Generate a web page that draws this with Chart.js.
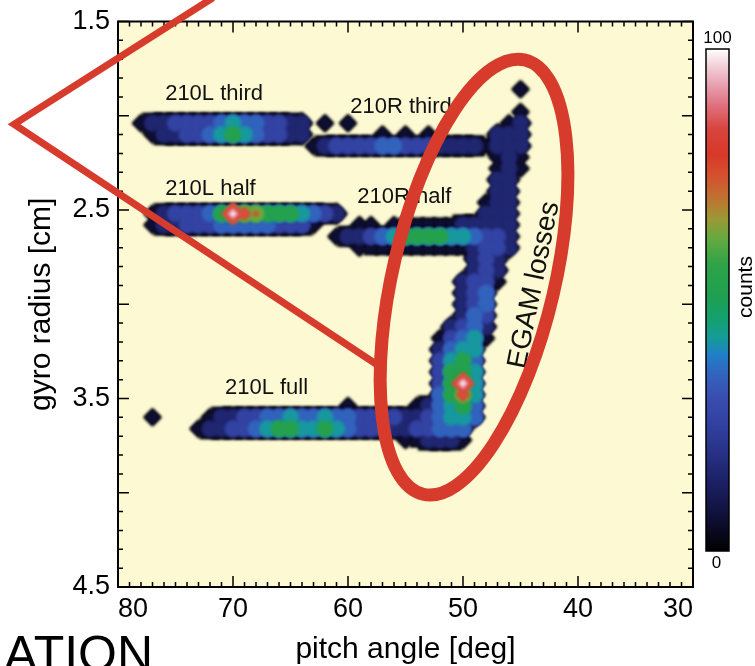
<!DOCTYPE html>
<html>
<head>
<meta charset="utf-8">
<script src="https://cdn.jsdelivr.net/npm/chart.js@4.4.1/dist/chart.umd.min.js"></script>
<style>
  html, body { margin: 0; padding: 0; background: #ffffff; }
  #wrap { width: 755px; height: 666px; }
</style>
</head>
<body>
<div id="wrap"><canvas id="c" width="755" height="666"></canvas></div>
<script>
// Fast-ion loss detector: counts per (pitch angle, gyro radius) bin.
// Each row starts at firstPitch and steps 1 deg towards smaller pitch.
// One character per bin: digit = tens of counts, X = 100 counts, '.' = empty bin.
const gyroRadius = [1.86, 1.98, 2.04, 2.10, 2.16, 2.22, 2.28, 2.34, 2.40, 2.46,
                    2.52, 2.58, 2.64, 2.70, 2.76, 2.82, 2.88, 2.94, 3.00, 3.06,
                    3.12, 3.18, 3.24, 3.30, 3.36, 3.42, 3.48, 3.54, 3.60, 3.66, 3.72];
const firstPitch = [45, 45, 78, 77, 63, 47, 47, 47, 47, 48,
                    77, 77, 61, 59, 49, 49, 50, 50, 50, 50,
                    51, 52, 52, 52, 52, 52, 52, 60, 77, 73, 55];
const binCounts = [
  "0",
  "0",
  "011222234332211.0.0.............01",
  "01122345432211......0.0.0.....111",
  "0122223322211110111",
  "010",
  "010",
  "11",
  "11",
  "011",
  "0122235X875554321............111",
  "011222333332220...00.00000011111",
  "0112345555443221",
  "00000000001221",
  "121",
  "121",
  "1220",
  "123",
  "123",
  "132",
  "1231",
  "02340",
  "1344",
  "2453",
  "2554",
  "25X4",
  "3584",
  "0.....013453",
  "0....011223343343322221123443",
  "011223455445432221122333",
  "001110"
];

// axis labelling
const pitchTickLabels = [80, 70, 60, 50, 40, 30];
const radiusTickLabels = [1.5, 2.5, 3.5, 4.5];

// contour levels (counts) and the count whose colour fills each band
const contourLevels = [1, 10, 20, 30, 40, 50, 60, 70, 80, 90, 98];
const bandCounts    = [6, 16, 26, 35, 42, 53, 63, 75, 85, 93, 100];

// colour table, counts 0..100
const colourStops = [
  [0, '#000000'], [6, '#0e0e32'], [13, '#1a1f60'], [19, '#262f82'], [25, '#3140a0'],
  [31, '#3a4fb2'], [36, '#2f68c0'], [39, '#207fc8'], [42.5, '#159c98'], [46, '#14a070'],
  [51, '#1fa050'], [57, '#2ea348'], [62, '#62aa40'], [66, '#9a9a36'], [70, '#bd7430'],
  [74, '#d25630'], [79, '#d83828'], [84, '#d8443e'], [88.5, '#de6e7a'], [93, '#e9a2b2'],
  [98, '#f6e2e8'], [100, '#ffffff']
];

// beam labels (pitch deg, gyro radius cm of the text's left baseline)
const beamLabels = [
  { text: '210L third', pitch: 75.9, radius: 1.914 },
  { text: '210R third', pitch: 59.8, radius: 1.985 },
  { text: '210L half',  pitch: 75.9, radius: 2.421 },
  { text: '210R half',  pitch: 59.2, radius: 2.463 },
  { text: '210L full',  pitch: 70.7, radius: 3.477 }
];

const FONT = '"Liberation Sans", Arial, Helvetica, sans-serif';
const RED = '#d63b2c';

function hexToRgb(h) {
  return [parseInt(h.slice(1, 3), 16), parseInt(h.slice(3, 5), 16), parseInt(h.slice(5, 7), 16)];
}
function colourAt(v) {
  for (let i = 1; i < colourStops.length; i++) {
    const [v1, c1] = colourStops[i];
    const [v0, c0] = colourStops[i - 1];
    if (v <= v1) {
      const t = (v - v0) / (v1 - v0);
      const a = hexToRgb(c0), b = hexToRgb(c1);
      const m = a.map((x, k) => Math.round(x + (b[k] - x) * t));
      return `rgb(${m[0]},${m[1]},${m[2]})`;
    }
  }
  return colourStops[colourStops.length - 1][1];
}

// bins as scatter points; the pitch axis runs from 80 (left) to 30 (right),
// so it is plotted as -pitch and labelled back as pitch
const cells = [];
gyroRadius.forEach((r, i) => {
  const row = binCounts[i];
  for (let j = 0; j < row.length; j++) {
    const ch = row[j];
    if (ch === '.') continue;
    const count = ch === 'X' ? 100 : Number(ch) * 10 + 5;
    cells.push({ x: -(firstPitch[i] - j), y: r, count });
  }
});
// neighbourhood of each bin: lone bins and row ends get pointed outlines
const occupied = new Set(cells.map(c => `${c.x}|${Math.round(c.y * 100)}`));
cells.forEach(c => {
  const k = Math.round(c.y * 100);
  const left = occupied.has(`${c.x - 1}|${k}`), right = occupied.has(`${c.x + 1}|${k}`);
  const up = occupied.has(`${c.x}|${k - 6}`), down = occupied.has(`${c.x}|${k + 6}`);
  c.isolated = !left && !right && !up && !down;
  c.rowEnd = !left || !right;
});

// outer contour: lone bins and row ends as diamonds, band interiors as squares
function outerShape(c) {
  return c.isolated || c.rowEnd ? 'rectRot' : 'rect';
}
function outerRadius(c, extra) {
  if (c.isolated) return 4 + 0.8 * c.count + extra;
  if (c.rowEnd) return Math.min(10, 4 + 0.8 * c.count) + extra;
  return (Math.min(9, 3 + 0.6 * c.count) + extra) * Math.SQRT2;
}
// inner contours: discs; peak contours: shrinking diamonds
function cellShape(c, level) {
  if (level < 10) return outerShape(c);
  return level < 70 ? 'circle' : 'rectRot';
}
function cellRadius(c, level) {
  if (level < 10) return outerRadius(c, 0);
  if (level < 70) return 8.5;
  return Math.max(0, Math.min(12, 1.5 + 0.4 * (c.count - level)));
}

const datasets = [{
  label: 'rim',
  data: cells,
  pointStyle: c => c.raw ? outerShape(c.raw) : 'circle',
  pointBackgroundColor: '#000000',
  pointBorderWidth: 0,
  pointRadius: c => c.raw ? outerRadius(c.raw, 1.5) : 0,
  order: 100
}];
contourLevels.forEach((level, i) => {
  datasets.push({
    label: 'level ' + level,
    data: cells.filter(c => c.count >= level),
    pointStyle: c => c.raw ? cellShape(c.raw, level) : 'circle',
    pointBackgroundColor: colourAt(bandCounts[i]),
    pointBorderWidth: 0,
    pointRadius: c => c.raw ? cellRadius(c.raw, level) : 0,
    order: 50 - i
  });
});

const backdrop = {
  id: 'backdrop',
  beforeDraw(chart) {
    const { ctx, chartArea: a } = chart;
    ctx.save();
    ctx.fillStyle = '#ffffff';
    ctx.fillRect(0, 0, chart.width, chart.height);
    ctx.fillStyle = '#fcf9d3';
    ctx.fillRect(a.left, a.top, a.right - a.left, a.bottom - a.top);
    ctx.restore();
  }
};

const softContours = {
  id: 'softContours',
  beforeDatasetsDraw(chart) { chart.ctx.save(); chart.ctx.filter = 'blur(1.5px)'; },
  afterDatasetsDraw(chart) { chart.ctx.restore(); }
};

const frame = {
  id: 'frame',
  afterDatasetsDraw(chart) {
    const { ctx, chartArea: a } = chart;
    const xs = chart.scales.x, ys = chart.scales.y;
    ctx.save();
    ctx.strokeStyle = '#000';
    ctx.lineWidth = 1.5;
    ctx.beginPath();
    xs.ticks.forEach(t => {
      const px = xs.getPixelForValue(t.value);
      const len = Math.abs(t.value % 10) < 1e-6 ? 11 : 5;
      ctx.moveTo(px, a.bottom); ctx.lineTo(px, a.bottom - len);
      ctx.moveTo(px, a.top); ctx.lineTo(px, a.top + len);
    });
    ys.ticks.forEach(t => {
      const py = ys.getPixelForValue(t.value);
      const len = Math.abs(t.value * 2 - Math.round(t.value * 2)) < 1e-6 ? 11 : 5;
      ctx.moveTo(a.left, py); ctx.lineTo(a.left + len, py);
      ctx.moveTo(a.right, py); ctx.lineTo(a.right - len, py);
    });
    ctx.stroke();
    ctx.lineWidth = 2;
    ctx.strokeRect(a.left, a.top, a.right - a.left, a.bottom - a.top);
    ctx.restore();
  }
};

const annotations = {
  id: 'annotations',
  afterDraw(chart) {
    const { ctx } = chart;
    const xs = chart.scales.x, ys = chart.scales.y;
    const X = p => xs.getPixelForValue(-p), Y = r => ys.getPixelForValue(r);
    ctx.save();

    // beam labels
    ctx.fillStyle = '#111';
    ctx.font = `22px ${FONT}`;
    ctx.textAlign = 'left';
    ctx.textBaseline = 'alphabetic';
    beamLabels.forEach(l => ctx.fillText(l.text, X(l.pitch), Y(l.radius)));

    // loss region label
    ctx.save();
    ctx.translate(X(43.8), Y(2.898));
    ctx.rotate(-78.5 * Math.PI / 180);
    ctx.font = `28px ${FONT}`;
    ctx.textAlign = 'center';
    ctx.textBaseline = 'middle';
    ctx.fillText('EGAM losses', 0, 0);
    ctx.restore();

    // loss region outline
    ctx.strokeStyle = RED;
    ctx.lineWidth = 13;
    ctx.beginPath();
    ctx.ellipse(X(49.04), Y(2.856), 81, 223, 13.2 * Math.PI / 180, 0, 2 * Math.PI);
    ctx.stroke();

    // zoom wedge
    ctx.lineWidth = 7;
    ctx.lineJoin = 'miter';
    ctx.beginPath();
    ctx.moveTo(X(71.74), Y(1.374));
    ctx.lineTo(X(89.04), Y(2.045));
    ctx.lineTo(X(57.04), Y(3.338));
    ctx.stroke();

    // colour bar
    const cbx = 706, cby = 49, cbw = 23, cbh = 502;
    const g = ctx.createLinearGradient(0, cby + cbh, 0, cby);
    colourStops.forEach(([v, c]) => g.addColorStop(v / 100, c));
    ctx.fillStyle = g;
    ctx.fillRect(cbx, cby, cbw, cbh);
    ctx.strokeStyle = '#000';
    ctx.lineWidth = 1.5;
    ctx.strokeRect(cbx, cby, cbw, cbh);
    ctx.fillStyle = '#000';
    ctx.font = `17px ${FONT}`;
    ctx.textAlign = 'center';
    ctx.textBaseline = 'middle';
    ctx.fillText('100', cbx + cbw / 2, 38);
    ctx.fillText('0', cbx + cbw / 2 - 1, 563);
    ctx.save();
    ctx.translate(746, 287);
    ctx.rotate(-Math.PI / 2);
    ctx.font = `21px ${FONT}`;
    ctx.fillText('counts', 0, 0);
    ctx.restore();

    // page heading fragment
    ctx.font = `50px ${FONT}`;
    ctx.textAlign = 'left';
    ctx.textBaseline = 'alphabetic';
    ctx.fillText('ATION', 4, 671);

    ctx.restore();
  }
};

Chart.defaults.font.family = FONT;

new Chart(document.getElementById('c'), {
  type: 'scatter',
  data: { datasets },
  options: {
    responsive: false,
    animation: false,
    events: [],
    layout: { padding: { top: 14, right: 62, bottom: 0, left: 0 } },
    plugins: { legend: { display: false }, tooltip: { enabled: false } },
    scales: {
      x: {
        type: 'linear', min: -80, max: -30, position: 'bottom',
        grid: { display: false, drawTicks: false }, border: { display: false },
        ticks: {
          stepSize: 1, autoSkip: false, maxRotation: 0, minRotation: 0, align: 'inner',
          padding: 9, color: '#000', font: { size: 27, family: FONT, lineHeight: 1 },
          callback: v => pitchTickLabels.includes(-v) ? String(-v) : ''
        },
        title: {
          display: true, text: 'pitch angle [deg]', color: '#000',
          font: { size: 30, family: FONT }, padding: { top: 0, bottom: -2 }
        },
        afterFit: s => { s.height = 79; }
      },
      y: {
        type: 'linear', min: 1.5, max: 4.5, reverse: true, position: 'left',
        grid: { display: false, drawTicks: false }, border: { display: false },
        ticks: {
          stepSize: 0.1, autoSkip: false, padding: 8, color: '#000',
          font: { size: 27, family: FONT, lineHeight: 1 },
          callback: v => radiusTickLabels.some(t => Math.abs(t - v) < 1e-6) ? v.toFixed(1) : ''
        },
        title: {
          display: true, text: 'gyro radius [cm]', color: '#000',
          font: { size: 30, family: FONT }, padding: { top: 24, bottom: 0 }
        },
        afterFit: s => { s.width = 118; }
      }
    }
  },
  plugins: [backdrop, softContours, frame, annotations]
});
</script>
</body>
</html>
